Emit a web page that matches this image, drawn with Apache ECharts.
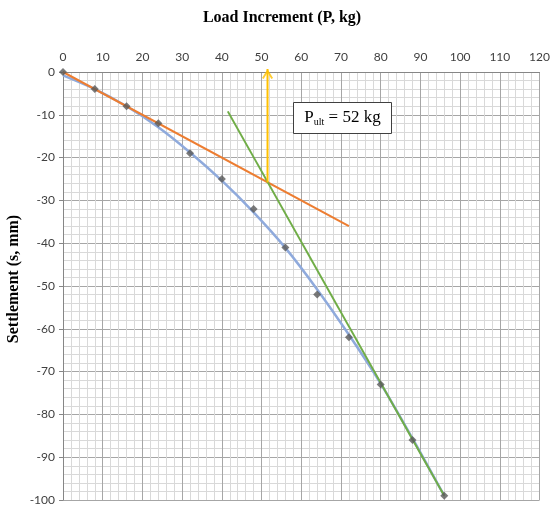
<!DOCTYPE html>
<html>
<head>
<meta charset="utf-8">
<script src="https://cdn.jsdelivr.net/npm/echarts@6/dist/echarts.min.js"></script>
<style>
html,body{margin:0;padding:0;background:#fff;}
#chart{width:553px;height:512px;}
</style>
</head>
<body>
<div id="chart"></div>
<script>
// Measured load test
const loads = [0, 8, 16, 24, 32, 40, 48, 56, 64, 72, 80, 88, 96];
const settlement = [0, -4, -8, -12, -19, -25, -32, -41, -52, -62, -73, -86, -99];
// Smooth trend line (at the same loads)
const trendSettlement = [-0.8, -4.0, -8.0, -12.9, -18.8, -25.4, -32.8, -41.1, -50.8, -61.4, -72.8, -85.6, -99.0];
// Initial tangent (orange)
const tangent1X = [0, 72];
const tangent1Y = [0, -36];
// Final tangent (green)
const tangent2X = [41.5, 96];
const tangent2Y = [-9.2, -99];
// Ultimate load marker (yellow arrow)
const arrowX = [51.5, 51.5];
const arrowY = [-25.8, 0.7];
const pUltText = '52 kg';

const chart = echarts.init(document.getElementById('chart'), null, {renderer: 'canvas'});
const zip = (xs, ys) => xs.map((x, i) => [x, ys[i]]);

const labelFont = 'Lato, "Open Sans", sans-serif';
const serif = '"Liberation Serif", "DejaVu Serif", serif';

const option = {
  animation: false,
  backgroundColor: '#ffffff',
  grid: {left: 63, right: 10, top: 72, bottom: 12, containLabel: false},
  xAxis: {
    type: 'value', position: 'top', min: 0, max: 120, interval: 10,
    axisLine: {show: true, lineStyle: {color: '#868686', width: 1}},
    axisTick: {show: false},
    axisLabel: {color: '#404040', fontSize: 12, fontFamily: labelFont, margin: 9},
    splitLine: {show: true, lineStyle: {color: '#a6a6a6', width: 1}},
    minorTick: {show: false, splitNumber: 5},
    minorSplitLine: {show: true, lineStyle: {color: '#d9d9d9', width: 1}}
  },
  yAxis: {
    type: 'value', min: -100, max: 0, interval: 10,
    axisLine: {show: true, lineStyle: {color: '#868686', width: 1}},
    axisTick: {show: true, length: 4, lineStyle: {color: '#868686'}},
    axisLabel: {color: '#404040', fontSize: 12, fontFamily: labelFont, margin: 8},
    splitLine: {show: true, lineStyle: {color: '#a6a6a6', width: 1}},
    minorTick: {show: false, splitNumber: 5},
    minorSplitLine: {show: true, lineStyle: {color: '#d9d9d9', width: 1}}
  },
  graphic: [
    {
      type: 'text', x: 282, y: 18,
      style: {text: 'Load Increment (P, kg)', font: 'bold 16px ' + serif, fill: '#000', align: 'center', verticalAlign: 'middle'}
    },
    {
      type: 'text', x: 14, y: 279, rotation: Math.PI / 2,
      style: {text: 'Settlement (s, mm)', font: 'bold 16px ' + serif, fill: '#000', align: 'center', verticalAlign: 'middle'}
    },
    {
      type: 'rect', x: 293.5, y: 102.5, z: 100,
      shape: {width: 98, height: 31},
      style: {fill: '#ffffff', stroke: '#404040', lineWidth: 1}
    },
    {
      type: 'text', x: 342.5, y: 118, z: 101,
      style: {
        text: '{p|P}{s|ult}{p| = ' + pUltText + '}',
        align: 'center', verticalAlign: 'middle',
        rich: {
          p: {fontFamily: serif, fontSize: 17, fill: '#000', color: '#000'},
          s: {fontFamily: serif, fontSize: 10, color: '#000', fill: '#000', padding: [9, 0, 0, 0]}
        }
      }
    }
  ],
  series: [
    {
      type: 'line', name: 'trend', data: zip(loads, trendSettlement), smooth: 0.3,
      showSymbol: false, symbol: 'none',
      lineStyle: {color: '#8faadc', width: 2.5}, z: 2
    },
    {
      type: 'line', name: 'tangent1', data: zip(tangent1X, tangent1Y),
      showSymbol: false, symbol: 'none',
      lineStyle: {color: '#ed7d31', width: 2}, z: 3
    },
    {
      type: 'line', name: 'tangent2', data: zip(tangent2X, tangent2Y),
      showSymbol: false, symbol: 'none',
      lineStyle: {color: '#70ad47', width: 2}, z: 3
    },
    {
      type: 'line', name: 'pult', data: zip(arrowX, arrowY), clip: false,
      showSymbol: false, symbol: 'none',
      lineStyle: {color: '#ffc000', width: 2}, z: 4
    },
    {
      type: 'scatter', name: 'pultHead', data: [[arrowX[1], arrowY[1]]], clip: false,
      symbol: 'path://M0,9 L5,0 L10,9 L8.5,9.9 L5,3.4 L1.5,9.9 Z',
      symbolSize: [11, 10], symbolOffset: [0, 5], symbolKeepAspect: false,
      itemStyle: {color: '#ffc000'}, z: 4, silent: true
    },
    {
      type: 'scatter', name: 'measured', data: zip(loads, settlement), clip: false,
      symbol: 'diamond', symbolSize: 8,
      itemStyle: {color: '#595959'}, z: 5
    }
  ]
};
chart.setOption(option);
</script>
</body>
</html>
